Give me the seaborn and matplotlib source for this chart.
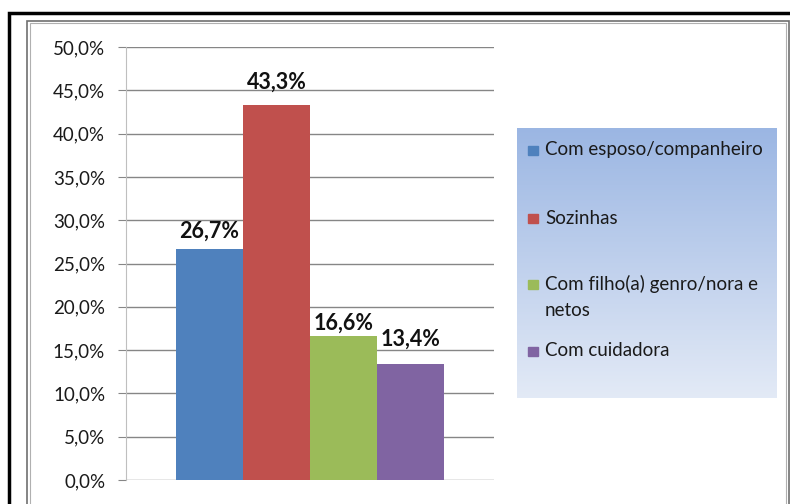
import numpy as np
import pandas as pd
import matplotlib
matplotlib.use("Agg")
import matplotlib.pyplot as plt
from matplotlib.patches import Rectangle
from matplotlib.ticker import FuncFormatter
import seaborn as sns

# Dados
categorias = ["Com esposo/companheiro", "Sozinhas",
              "Com filho(a) genro/nora e\nnetos", "Com cuidadora"]
valores = [26.7, 43.3, 16.6, 13.4]
rotulos = ["26,7%", "43,3%", "16,6%", "13,4%"]
cores = ["#4F81BD", "#C0504D", "#9BBB59", "#8064A2"]

df = pd.DataFrame({"grupo": [""] * 4, "categoria": categorias, "valor": valores})

sns.set_style("white")
plt.rcParams["font.family"] = ["Lato", "DejaVu Sans"]

fig = plt.figure(figsize=(7.9, 5.04), dpi=100)
W, H = 790, 504

def fr(x0, y0, x1, y1):
    # caixa em pixels -> fração da figura
    return [x0 / W, 1 - y1 / H, (x1 - x0) / W, (y1 - y0) / H]

# molduras
fig.patches.append(Rectangle((9 / W, -0.1), 1.2, 1 - 13 / H + 0.1, transform=fig.transFigure,
                             fill=False, edgecolor="black", linewidth=2.5))
fig.patches.append(Rectangle((27 / W, -0.1), (789 - 27) / W, 1 - 20.5 / H + 0.1,
                             transform=fig.transFigure, fill=False,
                             edgecolor="#6F6F6F", linewidth=1.2))
fig.patches.append(Rectangle((30 / W, -0.1), (786 - 30) / W, 1 - 23 / H + 0.1,
                             transform=fig.transFigure, fill=False,
                             edgecolor="#B0B0B0", linewidth=0.8))

ax = fig.add_axes(fr(126, 47, 494, 480))
sns.barplot(data=df, x="grupo", y="valor", hue="categoria", palette=cores,
            width=0.728, saturation=1, linewidth=0, ax=ax, legend=False)
ax.set_xlim(-0.5, 0.5)
ax.set_ylim(0, 50)
ax.set_yticks(np.arange(0, 51, 5))
ax.yaxis.set_major_formatter(FuncFormatter(lambda v, p: f"{v:.1f}%".replace(".", ",")))
ax.set_xticks([])
ax.set_xlabel("")
ax.set_ylabel("")
ax.grid(axis="y", color="#868686", linewidth=1)
ax.set_axisbelow(True)
for s in ["top", "right", "bottom"]:
    ax.spines[s].set_visible(False)
ax.spines["left"].set_color("#BFBFBF")
ax.tick_params(axis="y", length=6, color="#868686", labelsize=13.5,
               labelcolor="#1A1A1A", pad=9, left=True)

# distância dos rótulos (como no Excel, não é uniforme)
folgas = [5, 9, 2, 10]
for cont, lab, pad in zip(ax.containers, rotulos, folgas):
    ax.bar_label(cont, labels=[lab], padding=pad, fontsize=15.5,
                 fontweight="bold", color="#111111")

# legenda com fundo degradê
lax = fig.add_axes(fr(517, 128, 777, 398))
grad = np.linspace(0, 1, 256).reshape(-1, 1)
topo = np.array([0.608, 0.714, 0.890])
base = np.array([0.890, 0.918, 0.965])
img = topo + (base - topo) * grad[:, :, None]
lax.imshow(img, aspect="auto", extent=[517, 777, 398, 128])
lax.set_xlim(517, 777)
lax.set_ylim(398, 128)
lax.set_axis_off()

ys = [150, 218, 284, 351]
for cat, cor, y in zip(categorias, cores, ys):
    lax.add_patch(Rectangle((528, y - 4.5), 10, 9.5, color=cor))
    for j, linha in enumerate(cat.split("\n")):
        lax.text(545, y + j * 26, linha, fontsize=13.5, va="center", ha="left",
                 color="#1A1A1A")

fig.savefig("out.png", dpi=100)
